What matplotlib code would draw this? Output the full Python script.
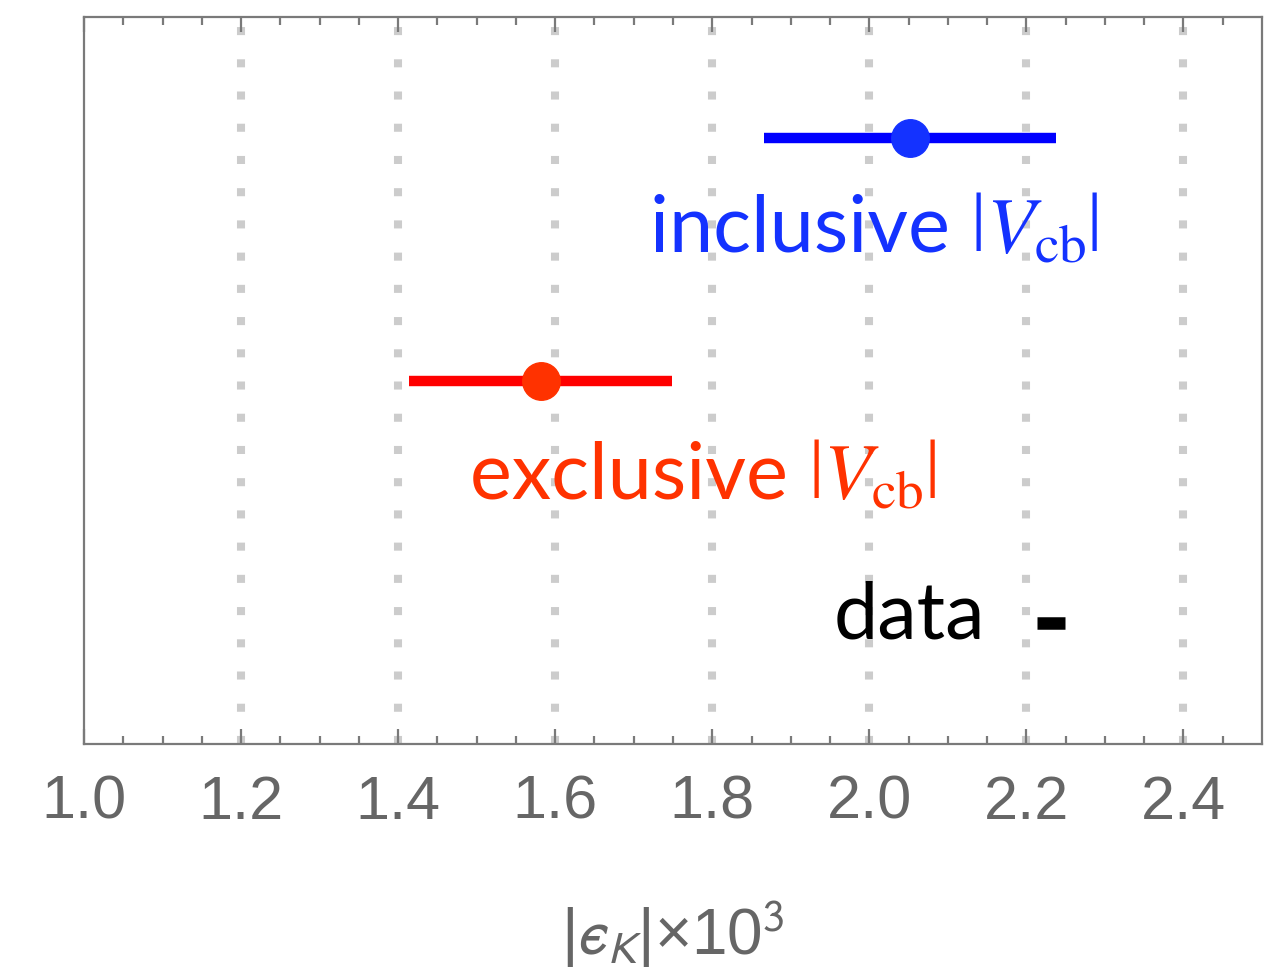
import numpy as np
import matplotlib
matplotlib.use("Agg")
import matplotlib.pyplot as plt

# --- data ---
labels = ["inclusive", "exclusive", "data"]
centers = [2.052, 1.582, 2.231]
lows = [1.866, 1.414, 2.213]
highs = [2.238, 1.749, 2.249]
rows = [3, 2, 1]
bar_colors = ["#0000ff", "#ff0000", "#000000"]
dot_colors = ["#1432ff", "#ff3200", "#000000"]

xticks = [1.0, 1.2, 1.4, 1.6, 1.8, 2.0, 2.2, 2.4]
grid_x = [1.2, 1.4, 1.6, 1.8, 2.0, 2.2, 2.4]

gray_frame = "#7a7a7a"
gray_text = "#666666"


def rich_label(ax, x, y, parts, color):
    """Chain text pieces left to right on a common baseline at data (x, y)."""
    prev = None
    for s, size, lift in parts:
        kw = dict(fontsize=size, family="Lato", math_fontfamily="stix",
                  color=color, va="baseline", ha="left")
        if prev is None:
            prev = ax.text(x, y, s, **kw)
        else:
            prev = ax.annotate(s, xy=(1, y), xycoords=(prev, "data"),
                               xytext=(0, lift), textcoords="offset points", **kw)
    return prev


fig = plt.figure(figsize=(12.87, 9.72), dpi=100)
ax = fig.add_axes([84 / 1287, 1 - 744 / 972, (1262 - 84) / 1287, (744 - 17) / 972])

# dotted grid lines at the major ticks
for gx in grid_x:
    ax.axvline(gx, color="#cccccc", lw=5.8, ls=(0, (1, 3)), zorder=0)

# error bars with centre dots
for i in range(2):
    ax.hlines(rows[i], lows[i], highs[i], color=bar_colors[i], lw=7.5, zorder=2)
    ax.plot(centers[i], rows[i], "o", color=dot_colors[i], ms=27, zorder=3)

# experimental value: short thick black bar
ax.hlines(rows[2], lows[2], highs[2], color="black", lw=9, zorder=2)

# labels: the |...| bars are set smaller and lifted so they sit on the baseline
vcb = [("|", 44, 8.4), (r"$V_{\rm cb}$", 57, 0), ("|", 44, 8.4)]
rich_label(ax, 1.721, 2.531, [("inclusive ", 57, 0)] + vcb, "#1432ff")
rich_label(ax, 1.4915, 1.514, [("exclusive ", 57, 0)] + vcb, "#ff3200")
ax.text(1.954, 0.936, "data", color="black", fontsize=57, family="Lato",
        va="baseline", ha="left")

ax.set_xlim(1.0, 2.5)
ax.set_ylim(0.5, 3.5)
ax.set_xticks(xticks)
ax.set_xticks(np.arange(1.05, 2.5, 0.05), minor=True)
ax.set_xticklabels([f"{t:.1f}" for t in xticks])
ax.set_yticks([])

for sp in ax.spines.values():
    sp.set_color(gray_frame)
    sp.set_linewidth(1.6)

ax.tick_params(axis="x", which="both", direction="in", top=True, bottom=True,
               color=gray_frame, width=1.6, labelcolor=gray_text, labelsize=44,
               pad=22)
ax.tick_params(axis="x", which="major", length=11)
ax.tick_params(axis="x", which="minor", length=6)
for lab in ax.get_xticklabels():
    lab.set_family("Liberation Sans")

ax.set_xlabel("|$\u03f5_K$|×10$^3$", fontsize=46, color=gray_text,
              family="Liberation Sans", math_fontfamily="stixsans", va="baseline")
ax.xaxis.set_label_coords(0.5, -0.290)

fig.savefig("out.png", dpi=100)
